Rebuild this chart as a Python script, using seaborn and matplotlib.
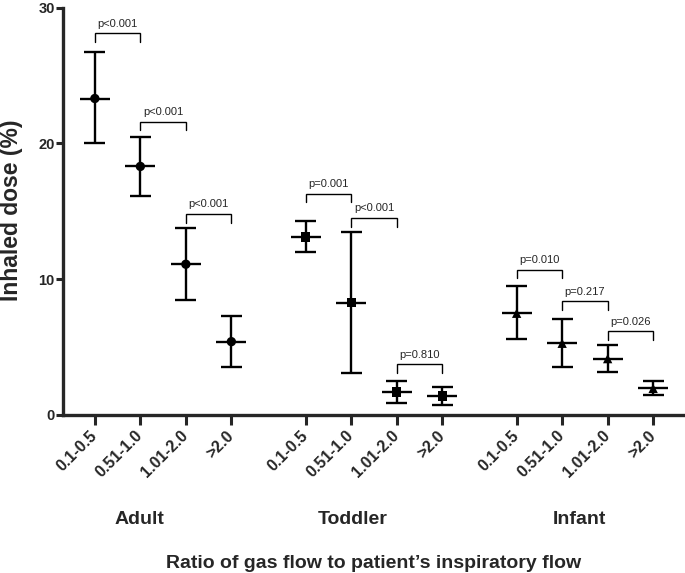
import pandas as pd
import matplotlib
matplotlib.use("Agg")
import matplotlib.pyplot as plt
import matplotlib.transforms as mtransforms
import seaborn as sns

groups = ["Adult", "Toddler", "Infant"]
ratios = ["0.1-0.5", "0.51-1.0", "1.01-2.0", ">2.0"]

adult_mean = [23.3, 18.3, 11.1, 5.4]
adult_low = [20.05, 16.1, 8.5, 3.5]
adult_high = [26.7, 20.5, 13.8, 7.3]

toddler_mean = [13.1, 8.27, 1.69, 1.40]
toddler_low = [12.0, 3.07, 0.91, 0.71]
toddler_high = [14.3, 13.5, 2.48, 2.04]

infant_mean = [7.49, 5.28, 4.15, 1.96]
infant_low = [5.57, 3.56, 3.14, 1.47]
infant_high = [9.52, 7.09, 5.13, 2.50]

# p-values between neighbouring ratio classes, and bracket heights
p_adult = ["p<0.001", "p<0.001", "p<0.001"]
p_toddler = ["p=0.001", "p<0.001", "p=0.810"]
p_infant = ["p=0.010", "p=0.217", "p=0.026"]
bracket_adult = [28.1, 21.6, 14.8]
bracket_toddler = [16.3, 14.5, 3.73]
bracket_infant = [10.7, 8.37, 6.16]

group_gap = 4.635
markers = {"Adult": "o", "Toddler": "s", "Infant": "^"}

rows = []
for g, (m, lo, hi) in enumerate([(adult_mean, adult_low, adult_high),
                                 (toddler_mean, toddler_low, toddler_high),
                                 (infant_mean, infant_low, infant_high)]):
    for i, r in enumerate(ratios):
        rows.append({"group": groups[g], "ratio": r, "x": g * group_gap + i,
                     "mean": m[i], "low": lo[i], "high": hi[i]})
df = pd.DataFrame(rows)

sns.set_style("ticks")
plt.rcParams["font.family"] = ["Liberation Sans", "DejaVu Sans"]

fig = plt.figure(figsize=(6.85, 5.73), dpi=100)
ax = fig.add_axes([63 / 685, 1 - 415 / 573, 622 / 685, (415 - 7.5) / 573])

# error bars and mean lines
ax.vlines(df["x"], df["low"], df["high"], color="black", lw=1.7, zorder=2)
ax.hlines(df["low"], df["x"] - 0.23, df["x"] + 0.23, color="black", lw=1.7, zorder=2)
ax.hlines(df["high"], df["x"] - 0.23, df["x"] + 0.23, color="black", lw=1.7, zorder=2)
ax.hlines(df["mean"], df["x"] - 0.33, df["x"] + 0.33, color="black", lw=1.7, zorder=2)

sns.scatterplot(data=df, x="x", y="mean", style="group", markers=markers,
                color="black", s=45, edgecolor="black", linewidth=0,
                legend=False, ax=ax, zorder=3)

# significance brackets
for g, (ps, bys) in enumerate([(p_adult, bracket_adult),
                               (p_toddler, bracket_toddler),
                               (p_infant, bracket_infant)]):
    for i in range(3):
        x0 = g * group_gap + i
        x1 = x0 + 1
        y = bys[i]
        ax.plot([x0, x0, x1, x1], [y - 0.65, y, y, y - 0.65],
                color="black", lw=1.0, solid_joinstyle="miter")
        ax.text((x0 + x1) / 2, y + 0.35, ps[i], ha="center", va="bottom",
                fontsize=8)

ax.set_xlim(-0.70, 12.97)
ax.set_ylim(0, 30)
ax.set_yticks([0, 10, 20, 30])
ax.set_xticks(df["x"])
ax.set_xticklabels(df["ratio"], rotation=45, ha="right", va="center",
                   rotation_mode="anchor", fontsize=11.5, fontweight="bold")
for lbl in ax.get_yticklabels():
    lbl.set_fontweight("bold")
    lbl.set_fontsize(10.5)
ax.tick_params(axis="x", length=7, width=2.2, pad=6)
ax.tick_params(axis="y", length=5, width=2.2, pad=1)
ax.set_xlabel("")
ax.set_ylabel("")
for side in ["left", "bottom"]:
    ax.spines[side].set_linewidth(2.4)
sns.despine(ax=ax)

fig.text(12 / 685, 1 - 210 / 573, "Inhaled dose (%)", rotation=90,
         ha="center", va="center", fontsize=16.5, fontweight="bold")

trans = mtransforms.blended_transform_factory(ax.transData, fig.transFigure)
group_label_x = [0.99, 5.67, 10.66]
for name, gx in zip(groups, group_label_x):
    ax.text(gx, 1 - 519 / 573, name, transform=trans, ha="center",
            va="center", fontsize=14, fontweight="bold")

fig.text(374 / 685, 1 - 563 / 573,
         "Ratio of gas flow to patient\u2019s inspiratory flow",
         ha="center", va="center", fontsize=14, fontweight="bold")

fig.savefig("out.png", dpi=100)
